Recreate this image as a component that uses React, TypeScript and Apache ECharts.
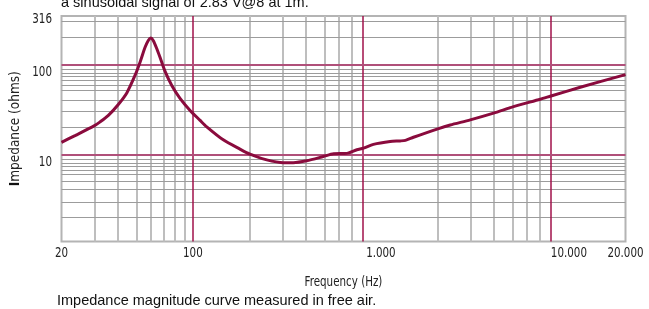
import React, { useEffect, useRef } from "react";
import * as echarts from "echarts";

// Impedance curve (Hz, ohms)
const frequencies = [20, 23.6, 29.8, 32.1, 35.5, 40.1, 44.5, 49.2, 52.4, 55.6, 57.9, 59.7, 61.6, 64.2, 66.9, 71.1, 77.2, 85.4, 96.6, 109.2, 118.5, 145, 178, 201, 247, 303, 342, 403, 494, 560, 659, 745, 808, 912, 1120, 1265, 1350, 1490, 2008, 2338, 2987, 3975, 5074, 7040, 8028, 11490, 20000];
const impedance = [13.8, 16.4, 21, 23.3, 27.5, 36.4, 48.9, 76.4, 108, 156, 187, 199, 186, 152.4, 121, 84.7, 59.2, 42.5, 31.2, 24.2, 20.5, 14.7, 11.6, 10.2, 8.8, 8.2, 8.2, 8.6, 9.6, 10.3, 10.4, 11.4, 11.9, 13.1, 14.1, 14.3, 14.5, 15.7, 19.5, 21.5, 24.5, 29.1, 34.4, 41.6, 45.2, 56.5, 78];

// axis ranges
const xRange = [20, 20000];
const yRange = [1.09, 350];

// tick labels
const xTickValues = [20, 100, 1000, 10000, 20000];
const xTickLabels = ["20", "100", "1.000", "10.000", "20.000"];
const yTickValues = [10, 100, 350];
const yTickLabels = ["10", "100", "316"];

// grid lines
const xGridGray = [30, 40, 50, 60, 70, 80, 90, 200, 300, 400, 500, 600, 700, 2000, 3000, 4000, 5000, 6000, 7000];
const xGridRed = [100, 800, 8000];
const yGridGray = [2.03, 3, 4.16, 5.1, 6.04, 6.69, 7.41, 8.09, 8.96, 20.1, 30.3, 40.5, 51.8, 60, 67.6, 74.9, 80.9, 89.6, 203, 308];
const yGridRed = [10, 100];

const headerText = "a sinusoidal signal of 2.83 V@8 at 1m.";
const captionText = "Impedance magnitude curve measured in free air.";
const xName = "Frequency (Hz)";
const yName = "mpedance (ohms)";

const condensed = '"DejaVu Sans Condensed", "DejaVu Sans", sans-serif';
const sans = '"Liberation Sans", Arial, sans-serif';
const narrow = 0.82;

export default function App() {
  const ref = useRef<HTMLDivElement>(null);
  useEffect(() => {
    if (!ref.current) return;
    const chart = echarts.init(ref.current, undefined, { renderer: "svg" });
    const data = frequencies.map((f, i) => [f, impedance[i]]);
    const gridLineSeries = (name: string, xs: number[], ys: number[], colorV: string, wV: number, colorH: string, wH: number, z: number) => ({
      name,
      type: "line",
      data: [],
      z,
      silent: true,
      markLine: {
        silent: true,
        symbol: "none",
        animation: false,
        label: { show: false },
        emphasis: { disabled: true },
        data: [
          ...xs.map((v) => ({ xAxis: v, lineStyle: { color: colorV, width: wV, type: "solid" } })),
          ...ys.map((v) => ({ yAxis: v, lineStyle: { color: colorH, width: wH, type: "solid" } })),
        ],
      },
    });
    chart.setOption({
      animation: false,
      grid: {
        left: 61.5,
        right: 23.5,
        top: 16,
        bottom: 67.5,
        show: true,
        borderColor: "#b4b4b4",
        borderWidth: 2,
        backgroundColor: "transparent",
        outerBoundsMode: "none",
      },
      xAxis: {
        type: "log",
        logBase: 10,
        min: xRange[0],
        max: xRange[1],
        axisLine: { show: false },
        axisTick: { show: false },
        splitLine: { show: false },
        minorSplitLine: { show: false },
        axisLabel: { show: false },
      },
      yAxis: {
        type: "log",
        logBase: 10,
        min: yRange[0],
        max: yRange[1],
        axisLine: { show: false },
        axisTick: { show: false },
        splitLine: { show: false },
        minorSplitLine: { show: false },
        axisLabel: { show: false },
      },
      series: [
        gridLineSeries("gray", xGridGray, yGridGray, "#bebebe", 2, "#9c9c9c", 1, 1),
        gridLineSeries("red", xGridRed, yGridRed, "#a0104a", 1.5, "#b0507a", 2, 2),
        {
          name: "Impedance",
          type: "line",
          data,
          z: 5,
          smooth: 0.25,
          showSymbol: false,
          symbol: "none",
          lineStyle: { color: "#8a0b3d", width: 3 },
          silent: true,
        },
      ],
    });

    // texts placed through the axes' own scales
    const px = (v: number) => chart.convertToPixel({ xAxisIndex: 0 }, v) as number;
    const py = (v: number) => chart.convertToPixel({ yAxisIndex: 0 }, v) as number;
    const left = px(xRange[0]);
    const right = px(xRange[1]);
    const top = py(yRange[1]);
    const bottom = py(yRange[0]);
    const tickFont = "14px " + condensed;
    const graphics: any[] = [];
    xTickValues.forEach((v, i) => {
      graphics.push({
        type: "text",
        x: px(v),
        y: bottom + 10.5,
        scaleX: narrow,
        silent: true,
        style: { text: xTickLabels[i], font: tickFont, fill: "#222", align: "center", verticalAlign: "middle" },
      });
    });
    yTickValues.forEach((v, i) => {
      const isMax = v === yRange[1];
      graphics.push({
        type: "text",
        x: left - 9.5,
        y: py(v) + (isMax ? 2.5 : 6),
        scaleX: narrow,
        silent: true,
        style: { text: yTickLabels[i], font: tickFont, fill: "#222", align: "right", verticalAlign: "middle" },
      });
    });
    graphics.push({
      type: "text",
      x: (left + right) / 2,
      y: bottom + 39.5,
      scaleX: narrow,
      silent: true,
      style: { text: xName, font: tickFont, fill: "#222", align: "center", verticalAlign: "middle" },
    });
    graphics.push({
      type: "text",
      x: left - 47.5,
      y: (top + bottom) / 2,
      rotation: Math.PI / 2,
      silent: true,
      style: {
        text: "{b|I}" + yName,
        font: "13.5px " + condensed,
        fill: "#222",
        align: "center",
        verticalAlign: "middle",
        rich: { b: { font: "bold 13.5px " + condensed, fill: "#111" } },
      },
    });
    graphics.push({
      type: "text",
      x: 61,
      y: -5.5,
      silent: true,
      style: { text: headerText, font: "14.5px " + sans, fill: "#111", verticalAlign: "top" },
    });
    graphics.push({
      type: "text",
      x: 57,
      y: 300,
      silent: true,
      style: { text: captionText, font: "14.5px " + sans, fill: "#111", verticalAlign: "middle" },
    });
    chart.setOption({ graphic: graphics });
    return () => chart.dispose();
  }, []);
  return <div ref={ref} style={{ position: "fixed", left: 0, top: 0, width: 649, height: 309 }} />;
}
